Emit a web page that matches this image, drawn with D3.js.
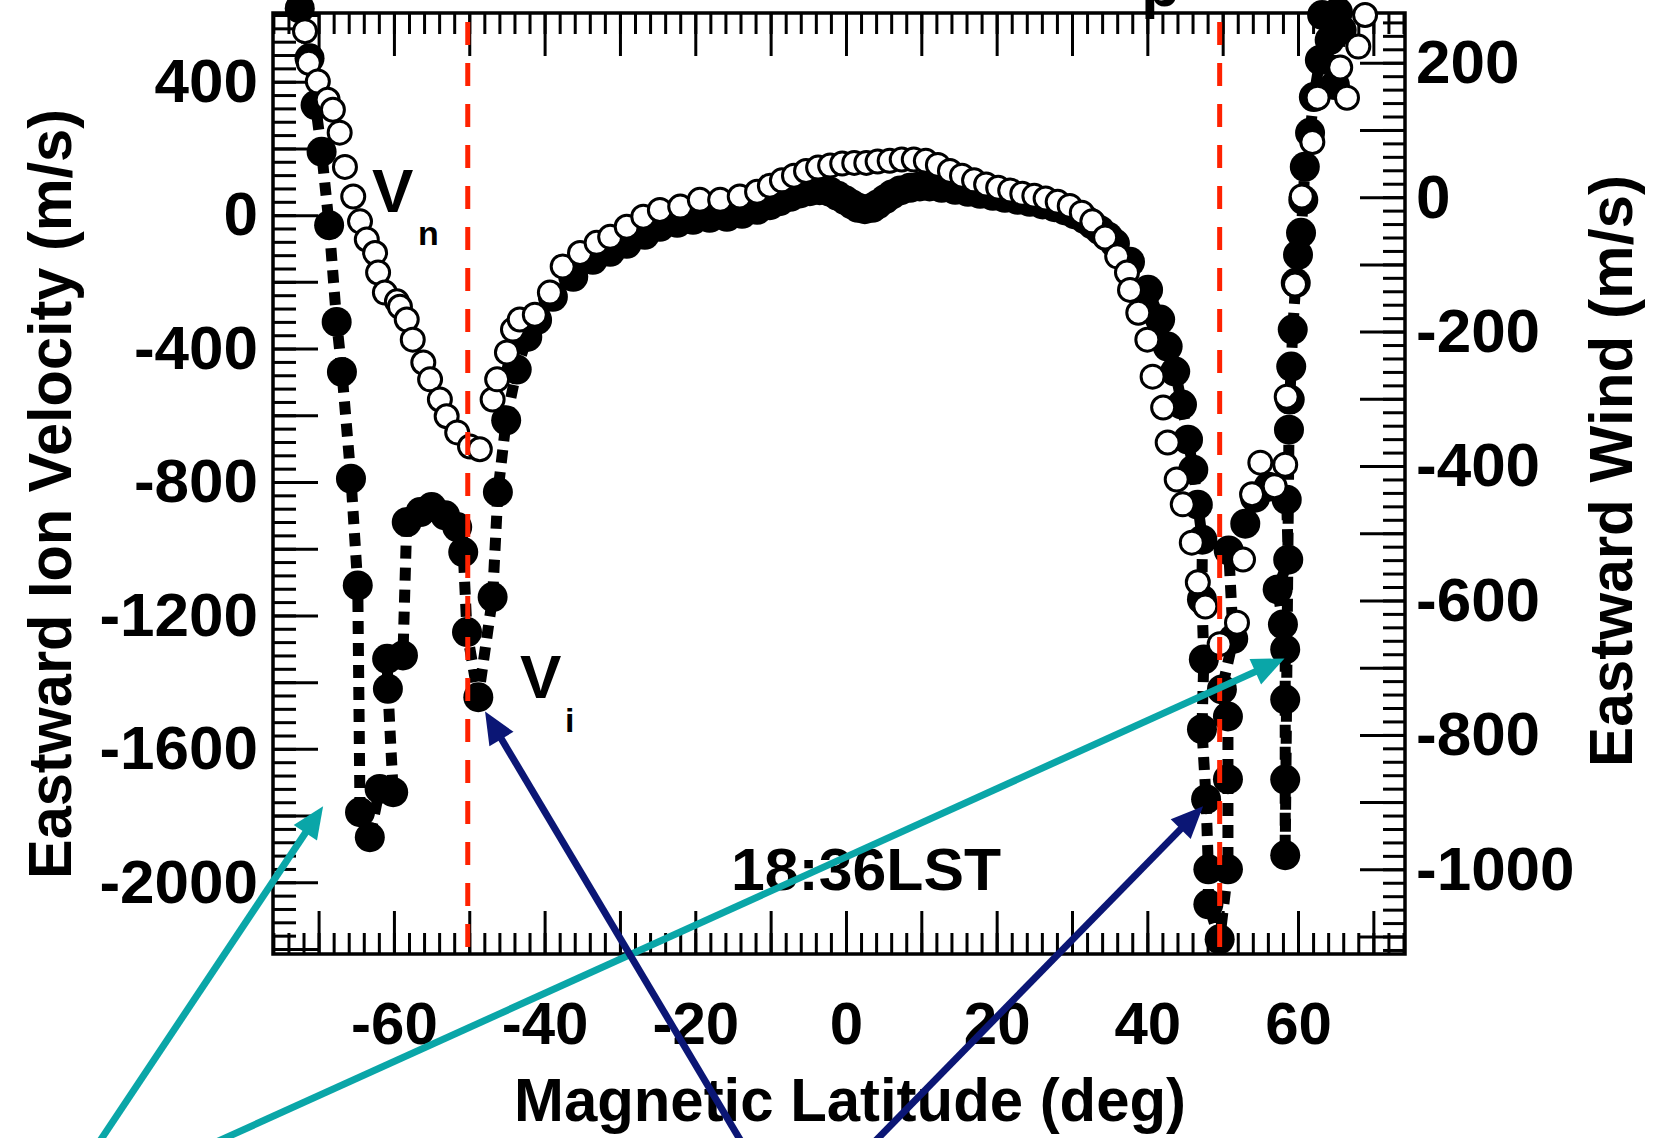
<!DOCTYPE html>
<html>
<head>
<meta charset="utf-8">
<script src="https://cdn.jsdelivr.net/npm/d3@7"></script>
<style>
  html, body { margin: 0; padding: 0; background: #fff; }
</style>
</head>
<body>
<div id="chart"></div>
<script>
// ---- values ----
const latLabels  = [-60, -40, -20, 0, 20, 40, 60];
const ionLabels  = [400, 0, -400, -800, -1200, -1600, -2000];
const windLabels = [200, 0, -200, -400, -600, -800, -1000];

// eastward ion velocity Vi (filled dots + thick dashed line, left axis)
const ionLat = [-72.5, -71.2, -70.4, -69.6, -68.6, -67.6, -66.9, -65.7, -64.8, -64.5,
  -63.2, -61.9, -60.1, -60.8, -60.9, -58.8, -58.3, -56.5, -55.0, -53.2,
  -51.6, -50.8, -50.3, -48.8, -46.9, -46.2, -45.1, -43.7, -42.3, -41.0,
  -38.9, -36.2, -33.6, -31.3, -29.1, -26.7, -24.7, -22.4, -20.3, -18.1,
  -15.8, -13.8, -11.8, -10.1, -8.8, -7.4, -6.1, -4.8, -3.5, -2.1,
  -1.1, -0.1, 0.8, 1.6, 2.5, 3.5, 4.2, 5.2, 6.1, 7.2,
  8.5, 9.8, 11.1, 12.7, 14.5, 16.2, 17.8, 19.5, 21.1, 22.8,
  24.4, 26.1, 27.7, 29.1, 30.4, 31.7, 32.7, 33.7, 34.8, 35.7,
  37.7, 40.1, 41.7, 42.7, 43.7, 44.6, 45.4, 46.1, 46.7, 47.3,
  47.25, 47.5, 47.25, 47.8, 48.1, 48.1, 49.6, 50.7, 50.7, 50.7,
  49.9, 51.4, 50.8, 53.0, 54.3, 56.1, 58.5, 58.7, 57.3, 58.0,
  58.3, 58.3, 58.3, 58.3, 58.8, 58.9, 59.1, 59.3, 59.7, 60.0,
  60.4, 60.7, 60.9, 61.6, 62.1, 62.9, 64.2, 64.9, 65.8, 65.3,
  63.2];
const ionVel = [620, 470, 330, 190, -30, -320, -470, -790, -1110, -1790,
  -1865, -1720, -1730, -1420, -1330, -1320, -920, -890, -875, -900,
  -935, -1010, -1250, -1445, -1145, -830, -615, -463, -365, -314,
  -245, -185, -134, -110, -86, -59, -35, -23, -14, -8,
  -5, 4, 16, 30, 42, 55, 65, 72, 75, 70,
  58, 45, 32, 22, 18, 22, 32, 48, 62, 74,
  82, 86, 86, 82, 76, 70, 64, 58, 52, 46,
  40, 32, 24, 14, 2, -12, -28, -45, -65, -85,
  -140, -224, -313, -394, -469, -568, -673, -763, -868, -973,
  -1152, -1332, -1541, -1751, -1961, -2066, -2171, -1961, -1691, -1503,
  -1422, -1270, -1005, -925, -847, -814, -853, -1033, -1122, -1227,
  -1302, -1452, -1692, -1919, -643, -553, -454, -343, -203, -119,
  -53, 46, 145, 247, 354, 465, 525, 390, 555, 609,
  600];

// eastward neutral wind Vn (open circles, right axis)
const windLat = [-71.8, -71.3, -70.1, -68.8, -68.1, -67.2, -66.5, -65.4, -64.5, -63.6,
  -62.5, -62.1, -61.2, -59.6, -59.2, -58.3, -57.5, -56.1, -55.2, -53.9,
  -53.0, -51.6, -49.9, -48.6, -46.9, -46.3, -45.0, -44.2, -43.3, -41.3,
  -39.3, -37.6, -35.3, -33.1, -31.3, -29.1, -26.9, -24.7, -22.0, -19.4,
  -16.7, -14.1, -11.8, -10.1, -8.5, -6.9, -5.3, -3.7, -2.1, -0.5,
  1.1, 2.7, 4.2, 5.8, 7.4, 9.0, 10.6, 12.2, 13.8, 15.4,
  17.0, 18.6, 20.2, 21.8, 23.4, 25.0, 26.5, 28.1, 29.7, 31.3,
  32.7, 34.4, 36.0, 37.3, 37.7, 38.8, 40.0, 40.7, 42.1, 42.7,
  43.9, 44.7, 45.9, 46.7, 47.7, 49.6, 51.9, 52.7, 53.9, 55.0,
  56.9, 58.3, 58.5, 59.6, 60.5, 61.9, 62.6, 65.6, 66.5, 68.0,
  68.9];
const windVel = [247, 200, 172, 145, 130, 96, 45, 1, -36, -63,
  -83, -112, -142, -155, -163, -182, -212, -246, -271, -301,
  -326, -350, -371, -375, -301, -271, -231, -197, -182, -175,
  -142, -103, -83, -68, -59, -44, -29, -19, -14, -4,
  -4, 1, 8, 17, 25, 32, 39, 44, 47, 50,
  51, 51, 53, 54, 56, 56, 54, 48, 39, 32,
  25, 19, 14, 10, 5, 2, -2, -7, -13, -23,
  -36, -60, -88, -112, -138, -172, -212, -267, -313, -365,
  -420, -457, -514, -573, -609, -665, -633, -539, -442, -395,
  -430, -398, -297, -130, 1, 82, 148, 193, 148, 224,
  271];

// red dashed boundary latitudes
const boundaryLat = [-50.2, 49.6];
const timeLabel = "18:36LST";

// annotation arrows (tail -> tip) in latitude / ion-velocity units
const arrowColor   = ["#0aa6a8", "#0aa6a8", "#0b1675", "#0b1675"];
const arrowFromLat = [-99.3, -84.2, -13.7, 3.5];
const arrowFromVel = [-2785, -2785, -2785, -2785];
const arrowToLat   = [-69.4, 58.2, -47.9, 47.4];
const arrowToVel   = [-1772, -1329, -1488, -1772];

// ---- drawing ----
const W = 1661, H = 1138;
const FONT = "'Liberation Sans', Arial, Helvetica, sans-serif";
const frame = {left: 273, right: 1405, top: 13, bottom: 954};

const svg = d3.select("#chart").append("svg")
    .attr("width", W).attr("height", H)
    .style("display", "block")
    .style("background", "#fff");

const x = d3.scaleLinear().domain([-76.05, 74.2]).range([frame.left, frame.right]);
const yIon = d3.scaleLinear().domain([-2215, 606]).range([frame.bottom, frame.top]);
const yWind = d3.scaleLinear().domain([-1126, 274]).range([frame.bottom, frame.top]);

function styleAxis(g, fs) {
    g.select(".domain").remove();
    g.attr("font-family", FONT).attr("font-size", fs).attr("font-weight", "bold");
    g.selectAll(".tick line").attr("stroke", "#000").attr("stroke-width", 3);
    g.selectAll(".tick text").attr("fill", "#000");
}

// x axis (bottom with labels, top ticks only)
svg.append("g").attr("transform", "translate(0," + frame.bottom + ")")
    .call(d3.axisBottom(x).tickValues(d3.range(-76, 75, 2)).tickSize(-21).tickFormat(""))
    .call(g => styleAxis(g, 60));
svg.append("g").attr("transform", "translate(0," + frame.bottom + ")")
    .call(d3.axisBottom(x).tickValues(d3.range(-70, 71, 10)).tickSize(-43).tickPadding(47)
        .tickFormat(d => latLabels.includes(d) ? String(d) : ""))
    .call(g => styleAxis(g, 60));
svg.append("g").attr("transform", "translate(0," + frame.top + ")")
    .call(d3.axisTop(x).tickValues(d3.range(-76, 75, 2)).tickSize(-21).tickFormat(""))
    .call(g => styleAxis(g, 60));
svg.append("g").attr("transform", "translate(0," + frame.top + ")")
    .call(d3.axisTop(x).tickValues(d3.range(-70, 71, 10)).tickSize(-43).tickFormat(""))
    .call(g => styleAxis(g, 60));

// left axis: ion velocity
svg.append("g").attr("transform", "translate(" + frame.left + ",0)")
    .call(d3.axisLeft(yIon).tickValues(d3.range(-2200, 606, 40)).tickSize(-23).tickFormat(""))
    .call(g => styleAxis(g, 62));
svg.append("g").attr("transform", "translate(" + frame.left + ",0)")
    .call(d3.axisLeft(yIon).tickValues(d3.range(-2200, 601, 200)).tickSize(-45).tickPadding(15)
        .tickFormat(d => ionLabels.includes(d) ? String(d) : ""))
    .call(g => styleAxis(g, 62));

// right axis: wind
svg.append("g").attr("transform", "translate(" + frame.right + ",0)")
    .call(d3.axisRight(yWind).tickValues(d3.range(-1120, 275, 20)).tickSize(-22).tickFormat(""))
    .call(g => styleAxis(g, 62));
svg.append("g").attr("transform", "translate(" + frame.right + ",0)")
    .call(d3.axisRight(yWind).tickValues(d3.range(-1100, 275, 100)).tickSize(-45).tickPadding(11)
        .tickFormat(d => windLabels.includes(d) ? String(d) : ""))
    .call(g => styleAxis(g, 62));

svg.append("rect")
    .attr("x", frame.left).attr("y", frame.top)
    .attr("width", frame.right - frame.left).attr("height", frame.bottom - frame.top)
    .attr("fill", "none").attr("stroke", "#000").attr("stroke-width", 3.5);

// axis titles
function title(tr, len, t) {
    svg.append("text")
        .attr("transform", tr)
        .attr("text-anchor", "middle").attr("font-family", FONT)
        .attr("font-size", 62).attr("font-weight", "bold")
        .attr("textLength", len).attr("lengthAdjust", "spacingAndGlyphs")
        .text(t);
}
title("translate(71,494) rotate(-90)", 770, "Eastward Ion Velocity (m/s)");
title("translate(1632,471) rotate(-90)", 592, "Eastward Wind (m/s)");
title("translate(850,1121)", 672, "Magnetic Latitude (deg)");
// cut-off title descender at the very top
svg.append("text").attr("x", 1141).attr("y", 6)
    .attr("font-family", FONT).attr("font-size", 64).attr("font-weight", "bold").text("p");

// Vi: thick dashed line with filled dots
const ionIdx = d3.range(ionLat.length);
svg.append("path")
    .datum(ionIdx)
    .attr("fill", "none").attr("stroke", "#000")
    .attr("stroke-width", 11).attr("stroke-dasharray", "13,9")
    .attr("d", d3.line().x(i => x(ionLat[i])).y(i => yIon(ionVel[i])));
svg.append("g").selectAll("circle")
    .data(ionIdx).join("circle")
    .attr("cx", i => x(ionLat[i])).attr("cy", i => yIon(ionVel[i]))
    .attr("r", 15).attr("fill", "#000");

// Vn: open circles
svg.append("g").selectAll("circle")
    .data(d3.range(windLat.length)).join("circle")
    .attr("cx", i => x(windLat[i])).attr("cy", i => yWind(windVel[i]))
    .attr("r", 11.5).attr("fill", "#fff").attr("stroke", "#000").attr("stroke-width", 3);

// red dashed boundaries
svg.append("g").selectAll("line")
    .data(boundaryLat).join("line")
    .attr("x1", d => x(d)).attr("x2", d => x(d))
    .attr("y1", 22).attr("y2", frame.bottom)
    .attr("stroke", "#ff2200").attr("stroke-width", 5).attr("stroke-dasharray", "23,18");

// labels inside the plot
function label(xp, yp, fs, t) {
    svg.append("text").attr("x", xp).attr("y", yp)
        .attr("font-family", FONT).attr("font-size", fs).attr("font-weight", "bold").text(t);
}
label(372, 212, 62, "V");
label(418, 245, 34, "n");
label(520, 698, 62, "V");
label(565, 732, 34, "i");
svg.append("text").attr("x", 731).attr("y", 890)
    .attr("font-family", FONT).attr("font-size", 60).attr("font-weight", "bold")
    .attr("textLength", 270).attr("lengthAdjust", "spacingAndGlyphs")
    .text(timeLabel);

// arrows
arrowColor.forEach((c, i) => {
    const x0 = x(arrowFromLat[i]), y0 = yIon(arrowFromVel[i]);
    const x1 = x(arrowToLat[i]), y1 = yIon(arrowToVel[i]);
    const len = Math.hypot(x1 - x0, y1 - y0);
    const ux = (x1 - x0) / len, uy = (y1 - y0) / len;
    const headL = 32, headW = 14;
    const bx = x1 - ux * headL, by = y1 - uy * headL;
    svg.append("line")
        .attr("x1", x0).attr("y1", y0).attr("x2", bx + ux * 2).attr("y2", by + uy * 2)
        .attr("stroke", c).attr("stroke-width", 7);
    svg.append("polygon")
        .attr("points", [[x1, y1], [bx - uy * headW, by + ux * headW], [bx + uy * headW, by - ux * headW]]
            .map(p => p.join(",")).join(" "))
        .attr("fill", c);
});
</script>
</body>
</html>
